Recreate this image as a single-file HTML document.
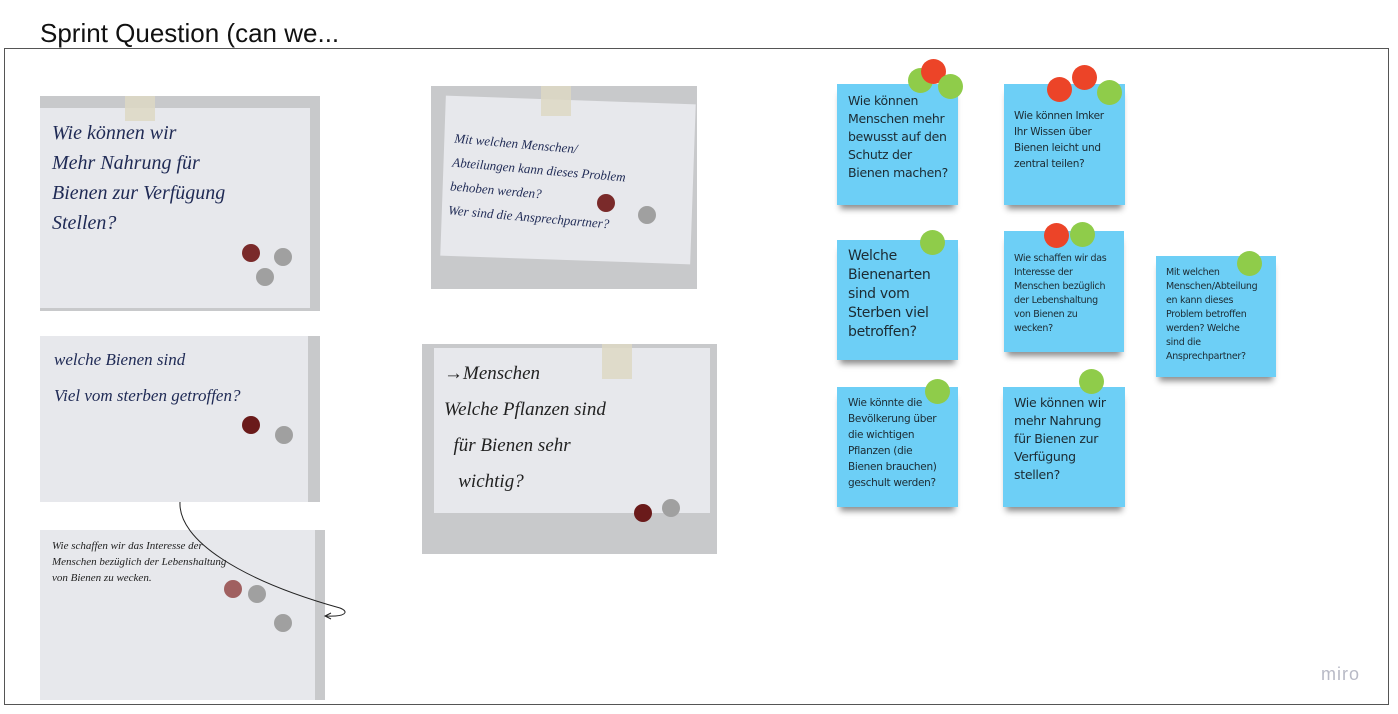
<!DOCTYPE html>
<html><head><meta charset="utf-8"><style>
body{margin:0;width:1398px;height:714px;background:#fff;position:relative;overflow:hidden;font-family:"Liberation Sans",sans-serif}
.t{position:absolute;left:40px;top:18px;font-size:26px;color:#111}
.frame{position:absolute;left:4px;top:48px;width:1385px;height:657px;border:1px solid #555;box-sizing:border-box}
.ph{position:absolute;background:#c8c9cb;overflow:hidden}
.pp{position:absolute;background:#e7e8ec}
.hw{position:absolute;font-family:"Liberation Serif",serif;font-style:italic;color:#1f2a55;white-space:nowrap}
.tape{position:absolute;background:#ddd8c4;opacity:.85}
.d{position:absolute;border-radius:50%}
.s{position:absolute;background:#6dcff6;box-shadow:0 7px 6px -3px rgba(0,0,0,.45);box-sizing:border-box;color:#1c2b33;font-family:"DejaVu Sans",sans-serif;white-space:nowrap;letter-spacing:-0.3px}
.dot{position:absolute;width:25px;height:25px;border-radius:50%}
.g{background:#8fcc4a}.r{background:#ec4428}
.miro{position:absolute;left:1321px;top:664px;font-size:18px;color:#b8bac6;letter-spacing:1px}
</style></head><body>
<div class="t">Sprint Question (can we...</div>
<div class="frame"></div>

<div class="ph" style="left:40px;top:96px;width:280px;height:215px">
 <div class="pp" style="left:0;top:12px;width:270px;height:200px"></div>
 <div class="tape" style="left:85px;top:0;width:30px;height:25px"></div>
 <div class="hw" style="left:12px;top:22px;font-size:20px;line-height:30px">Wie können wir<br>Mehr Nahrung für<br>Bienen zur Verfügung<br>Stellen?</div>
 <div class="d" style="left:202px;top:148px;width:18px;height:18px;background:#7a2a2a"></div>
 <div class="d" style="left:234px;top:152px;width:18px;height:18px;background:#a0a0a0"></div>
 <div class="d" style="left:216px;top:172px;width:18px;height:18px;background:#a0a0a0"></div>
</div>

<div class="ph" style="left:431px;top:86px;width:266px;height:203px">
 <div class="pp" style="left:12px;top:14px;width:250px;height:160px;transform:rotate(2deg)"></div>
 <div class="tape" style="left:110px;top:0;width:30px;height:30px"></div>
 <div class="hw" style="left:20px;top:48px;font-size:13px;line-height:24px;transform:rotate(5deg)">Mit welchen Menschen/<br>Abteilungen kann dieses Problem<br>behoben werden?<br>Wer sind die Ansprechpartner?</div>
 <div class="d" style="left:166px;top:108px;width:18px;height:18px;background:#7a2a2a"></div>
 <div class="d" style="left:207px;top:120px;width:18px;height:18px;background:#a0a0a0"></div>
</div>

<div class="ph" style="left:40px;top:336px;width:280px;height:166px">
 <div class="pp" style="left:0;top:0;width:268px;height:166px"></div>
 <div class="hw" style="left:14px;top:6px;font-size:17px;line-height:36px">welche Bienen sind<br>Viel vom sterben getroffen?</div>
 <div class="d" style="left:202px;top:80px;width:18px;height:18px;background:#6a1a1a"></div>
 <div class="d" style="left:235px;top:90px;width:18px;height:18px;background:#a0a0a0"></div>
</div>

<div class="ph" style="left:422px;top:344px;width:295px;height:210px">
 <div class="pp" style="left:12px;top:4px;width:276px;height:165px"></div>
 <div class="tape" style="left:180px;top:0;width:30px;height:35px"></div>
 <div class="hw" style="left:22px;top:12px;font-size:19px;line-height:36px;color:#222">→Menschen<br>Welche Pflanzen sind<br>&nbsp;&nbsp;für Bienen sehr<br>&nbsp;&nbsp;&nbsp;wichtig?</div>
 <div class="d" style="left:212px;top:160px;width:18px;height:18px;background:#6a1a1a"></div>
 <div class="d" style="left:240px;top:155px;width:18px;height:18px;background:#a0a0a0"></div>
</div>

<div class="ph" style="left:40px;top:530px;width:285px;height:170px">
 <div class="pp" style="left:0;top:0;width:275px;height:170px"></div>
 <div class="hw" style="left:12px;top:8px;font-size:11px;line-height:16px;color:#222">Wie schaffen wir das Interesse der<br>Menschen bezüglich der Lebenshaltung<br>von Bienen zu wecken.</div>
 <div class="d" style="left:184px;top:50px;width:18px;height:18px;background:#a06060"></div>
 <div class="d" style="left:208px;top:55px;width:18px;height:18px;background:#a0a0a0"></div>
 <div class="d" style="left:234px;top:84px;width:18px;height:18px;background:#a0a0a0"></div>
</div>

<svg style="position:absolute;left:0;top:0" width="1398" height="714">
 <path d="M180 502 C178 540 240 580 340 608 C350 612 345 617 326 616" fill="none" stroke="#222" stroke-width="1"/>
 <path d="M331 613 L325 616 L331 619" fill="none" stroke="#222" stroke-width="1"/>
</svg>

<div class="s" style="left:837px;top:84px;width:121px;height:121px;padding:8px 11px;font-size:12.5px;line-height:18px">Wie können<br>Menschen mehr<br>bewusst auf den<br>Schutz der<br>Bienen machen?</div>
<div class="s" style="left:1004px;top:84px;width:121px;height:121px;padding:24px 10px;font-size:10.5px;line-height:16px">Wie können Imker<br>Ihr Wissen über<br>Bienen leicht und<br>zentral teilen?</div>
<div class="s" style="left:837px;top:240px;width:121px;height:120px;padding:7px 11px;font-size:14px;line-height:19px">Welche<br>Bienenarten<br>sind vom<br>Sterben viel<br>betroffen?</div>
<div class="s" style="left:1004px;top:231px;width:120px;height:121px;padding:21px 10px;font-size:9.5px;line-height:14px">Wie schaffen wir das<br>Interesse der<br>Menschen bezüglich<br>der Lebenshaltung<br>von Bienen zu<br>wecken?</div>
<div class="s" style="left:1156px;top:256px;width:120px;height:121px;padding:10px 10px;font-size:9.5px;line-height:14px">Mit welchen<br>Menschen/Abteilung<br>en kann dieses<br>Problem betroffen<br>werden? Welche<br>sind die<br>Ansprechpartner?</div>
<div class="s" style="left:837px;top:387px;width:121px;height:120px;padding:8px 11px;font-size:10.5px;line-height:16px">Wie könnte die<br>Bevölkerung über<br>die wichtigen<br>Pflanzen (die<br>Bienen brauchen)<br>geschult werden?</div>
<div class="s" style="left:1003px;top:387px;width:122px;height:120px;padding:7px 11px;font-size:12.5px;line-height:18px">Wie können wir<br>mehr Nahrung<br>für Bienen zur<br>Verfügung<br>stellen?</div>

<div class="dot g" style="left:908px;top:68px"></div>
<div class="dot r" style="left:921px;top:59px"></div>
<div class="dot g" style="left:938px;top:74px"></div>
<div class="dot r" style="left:1047px;top:77px"></div>
<div class="dot r" style="left:1072px;top:65px"></div>
<div class="dot g" style="left:1097px;top:80px"></div>
<div class="dot g" style="left:920px;top:230px"></div>
<div class="dot r" style="left:1044px;top:223px"></div>
<div class="dot g" style="left:1070px;top:222px"></div>
<div class="dot g" style="left:1237px;top:251px"></div>
<div class="dot g" style="left:925px;top:379px"></div>
<div class="dot g" style="left:1079px;top:369px"></div>

<div class="miro">miro</div>
</body></html>
